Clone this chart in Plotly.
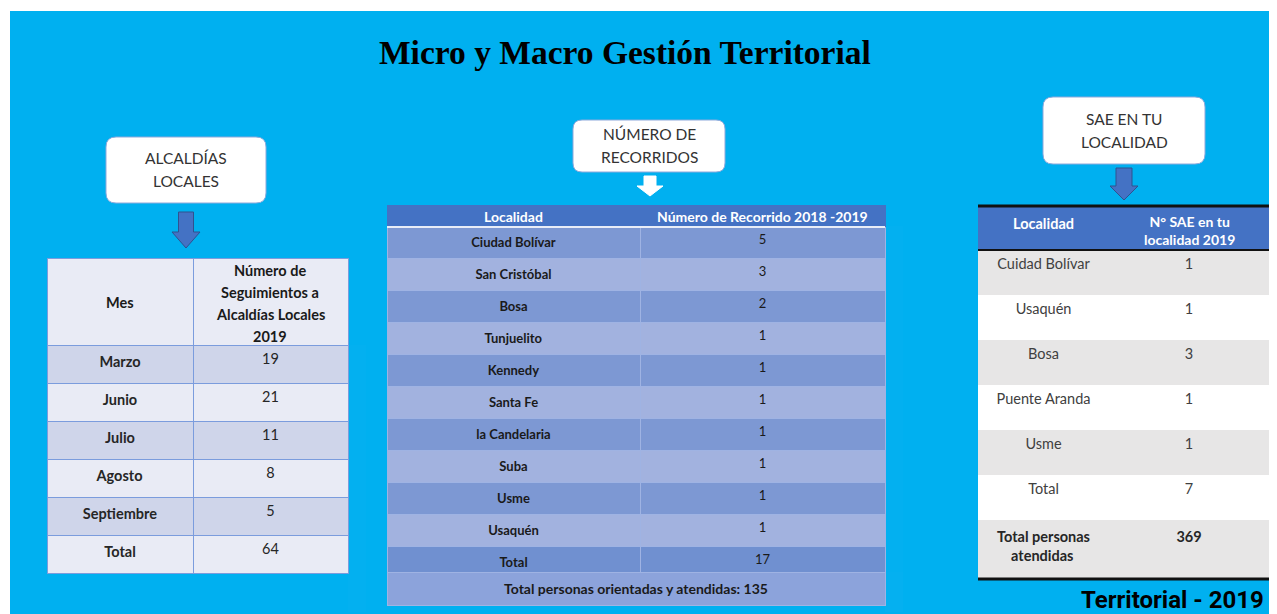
import plotly.graph_objects as go

W, H = 1277, 614
OFF = 8  # the page body keeps an 8px margin; coordinates below are window pixels

# ---- data ----
meses = ["Marzo", "Junio", "Julio", "Agosto", "Septiembre", "Total"]
seguimientos = [19, 21, 11, 8, 5, 64]

recorrido_localidades = ["Ciudad Bolívar", "San Cristóbal", "Bosa", "Tunjuelito", "Kennedy",
                         "Santa Fe", "la Candelaria", "Suba", "Usme", "Usaquén", "Total"]
recorridos = [5, 3, 2, 1, 1, 1, 1, 1, 1, 1, 17]
personas_orientadas = 135

sae_localidades = ["Cuidad Bolívar", "Usaquén", "Bosa", "Puente Aranda", "Usme", "Total"]
sae_valores = [1, 1, 3, 1, 1, 7]
personas_atendidas = 369

BG = "#00B0F0"
MID = "#4472C4"
FONT = "Lato"


def dom_x(x0, x1):
    return [(x0 - OFF) / (W - OFF), (x1 - OFF) / (W - OFF)]


def dom_y(top, bottom):
    return [1 - (bottom - OFF) / (H - OFF), 1 - (top - OFF) / (H - OFF)]


def rounded_rect(x0, y0, x1, y1, r):
    return (f"M {x0 + r},{y0} L {x1 - r},{y0} Q {x1},{y0} {x1},{y0 + r} "
            f"L {x1},{y1 - r} Q {x1},{y1} {x1 - r},{y1} L {x0 + r},{y1} "
            f"Q {x0},{y1} {x0},{y1 - r} L {x0},{y0 + r} Q {x0},{y0} {x0 + r},{y0} Z")


def down_arrow(cx, top, bottom, shaft_w, head_w, head_h):
    mid = bottom - head_h
    return (f"M {cx - shaft_w / 2},{top} L {cx + shaft_w / 2},{top} L {cx + shaft_w / 2},{mid} "
            f"L {cx + head_w / 2},{mid} L {cx},{bottom} L {cx - head_w / 2},{mid} "
            f"L {cx - shaft_w / 2},{mid} Z")


fig = go.Figure()

# Table 1: Alcaldías locales (header text is added as annotations so it can be centred)
fill1 = ["#CFD5EA" if i % 2 == 0 else "#E9EBF5" for i in range(len(meses))]
line1 = {"color": "#7B9CDD", "width": 1}
fig.add_trace(go.Table(
    domain={"x": dom_x(47, 348), "y": dom_y(258, 612)},
    columnwidth=[146, 155],
    header={"values": ["", ""], "fill_color": "#E9EBF5", "line": line1, "height": 87},
    cells={
        "values": [[f"<b>{m}</b>" for m in meses], seguimientos],
        "fill_color": [fill1, fill1],
        "line": line1,
        "align": "center",
        "height": 38,
        "font": {"family": FONT, "size": 14.5, "color": "#262626"},
    },
))

# Table 2: Número de recorridos
fill2 = ["#7D98D3" if i % 2 == 0 else "#A2B2DF" for i in range(len(recorrido_localidades))]
fill2[-1] = "#7090D0"
fig.add_trace(go.Table(
    domain={"x": dom_x(387, 885), "y": dom_y(205, 612)},
    columnwidth=[253, 245],
    header={"values": ["", ""], "fill_color": MID, "line": {"color": MID, "width": 1}, "height": 21},
    cells={
        "values": [[f"<b>{v}</b>" for v in recorrido_localidades], recorridos],
        "fill_color": [fill2, fill2],
        "line": {"color": "#9FB3E3", "width": 1},
        "align": "center",
        "height": 31.5,
        "font": {"family": FONT, "size": 13, "color": "#1a1a1a"},
    },
))
fig.add_trace(go.Table(
    domain={"x": dom_x(387, 885), "y": dom_y(572, 613)},
    header={
        "values": [f"<b>Total personas orientadas y atendidas: {personas_orientadas}</b>"],
        "fill_color": "#8CA3DB",
        "line": {"color": "#9FB3E3", "width": 1},
        "align": "center",
        "height": 29,
        "font": {"family": FONT, "size": 14, "color": "#1a1a1a"},
    },
    cells={"values": [[]]},
))

# Table 3: SAE en tu localidad
fill3 = ["#E7E6E6" if i % 2 == 0 else "#FFFFFF" for i in range(len(sae_localidades))]
fig.add_trace(go.Table(
    domain={"x": dom_x(978, 1269), "y": dom_y(207, 612)},
    columnwidth=[131, 160],
    header={
        "values": ["<b>Localidad</b>", ""],
        "fill_color": MID,
        "line": {"color": MID, "width": 1},
        "align": "center",
        "height": 43,
        "font": {"family": FONT, "size": 14.5, "color": "white"},
    },
    cells={
        "values": [sae_localidades, sae_valores],
        "fill_color": [fill3, fill3],
        "line": {"color": [fill3, fill3], "width": 1},
        "align": "center",
        "height": 45,
        "font": {"family": FONT, "size": 14.5, "color": "#404040"},
    },
))
# closing row of the SAE table (taller than the others)
fig.add_trace(go.Table(
    domain={"x": dom_x(978, 1269), "y": dom_y(520, 612)},
    columnwidth=[131, 160],
    header={
        "values": ["<b>Total personas<br>\u00a0\u00a0\u00a0\u00a0atendidas</b>", f"<b>{personas_atendidas}</b>"],
        "fill_color": "#E7E6E6",
        "line": {"color": "#E7E6E6", "width": 1},
        "align": "center",
        "height": 58,
        "font": {"family": FONT, "size": 14.5, "color": "#262626"},
    },
    cells={"values": [[], []]},
))

shapes = [
    # background panel
    {"type": "rect", "x0": 10, "x1": W, "y0": 11, "y1": H, "fillcolor": BG,
     "line": {"width": 0}, "layer": "below"},
    # callout boxes
    {"type": "path", "path": rounded_rect(106, 137, 266, 203, 10), "fillcolor": "white",
     "line": {"color": "#8EA9DB", "width": 1}},
    {"type": "path", "path": rounded_rect(573, 120, 725, 172, 9), "fillcolor": "white",
     "line": {"color": "#8EA9DB", "width": 1}},
    {"type": "path", "path": rounded_rect(1043, 97, 1205, 164, 10), "fillcolor": "white",
     "line": {"color": "#8EA9DB", "width": 1}},
    # arrows
    {"type": "path", "path": down_arrow(186, 212, 248, 15, 28, 16), "fillcolor": MID,
     "line": {"color": "#2F528F", "width": 1}},
    {"type": "path", "path": down_arrow(650, 176, 196, 12, 26, 10), "fillcolor": "white",
     "line": {"color": "white", "width": 1}},
    {"type": "path", "path": down_arrow(1124, 168, 200, 16, 28, 14), "fillcolor": MID,
     "line": {"color": "#2F528F", "width": 1}},
    # white rule under the recorridos header
    {"type": "line", "x0": 387, "x1": 885, "y0": 227, "y1": 227, "line": {"color": "#E8EDF8", "width": 2}},
    # rules of the SAE table
    {"type": "line", "x0": 978, "x1": 1269, "y0": 206, "y1": 206, "line": {"color": "#111", "width": 3}},
    {"type": "line", "x0": 978, "x1": 1269, "y0": 250, "y1": 250, "line": {"color": "#111", "width": 2}},
    {"type": "line", "x0": 978, "x1": 1269, "y0": 579, "y1": 579, "line": {"color": "#111", "width": 3}},
]
for s in shapes:
    s.setdefault("xref", "x")
    s.setdefault("yref", "y")

callout_font = {"family": FONT, "size": 15.5, "color": "#333333"}
head_dark = {"family": FONT, "size": 14.5, "color": "#1a1a1a"}
head_white = {"family": FONT, "size": 14, "color": "white"}
annotations = [
    {"x": 625, "y": 52, "text": "<b>Micro y Macro Gestión Territorial</b>",
     "font": {"family": "Liberation Serif", "size": 33.5, "color": "black"}},
    # callouts
    {"x": 186, "y": 158, "text": "ALCALDÍAS", "font": callout_font},
    {"x": 186, "y": 181, "text": "LOCALES", "font": callout_font},
    {"x": 649, "y": 134, "text": "NÚMERO DE", "font": callout_font},
    {"x": 649, "y": 157, "text": "RECORRIDOS", "font": callout_font},
    {"x": 1124, "y": 119, "text": "SAE EN TU", "font": callout_font},
    {"x": 1124, "y": 142, "text": "LOCALIDAD", "font": callout_font},
    # table headers
    {"x": 120, "y": 302, "text": "<b>Mes</b>", "font": head_dark},
    {"x": 270, "y": 270, "text": "<b>Número de</b>", "font": head_dark},
    {"x": 270, "y": 292, "text": "<b>Seguimientos a</b>", "font": head_dark},
    {"x": 270, "y": 314, "text": "<b>Alcaldías Locales</b>", "font": head_dark},
    {"x": 270, "y": 336, "text": "<b>2019</b>", "font": head_dark},
    {"x": 513, "y": 216, "text": "<b>Localidad</b>", "font": head_white},
    {"x": 762, "y": 216, "text": "<b>Número de Recorrido 2018 -2019</b>", "font": head_white},
    {"x": 1189, "y": 230, "text": "<b>N° SAE en tu<br>localidad 2019</b>", "font": head_white},
    {"x": 1172, "y": 600, "text": "<b>Territorial - 2019</b>",
     "font": {"family": "Roboto", "size": 24, "color": "black"}},
]
for a in annotations:
    a.update({"xref": "x", "yref": "y", "showarrow": False})

fig.update_layout(
    width=W - OFF,
    height=H - OFF,
    margin={"l": 0, "r": 0, "t": 0, "b": 0},
    paper_bgcolor="white",
    plot_bgcolor="rgba(0,0,0,0)",
    xaxis={"range": [OFF, W], "visible": False, "fixedrange": True},
    yaxis={"range": [H, OFF], "visible": False, "fixedrange": True},
    shapes=shapes,
    annotations=annotations,
    showlegend=False,
)

fig.write_html("out.html")
